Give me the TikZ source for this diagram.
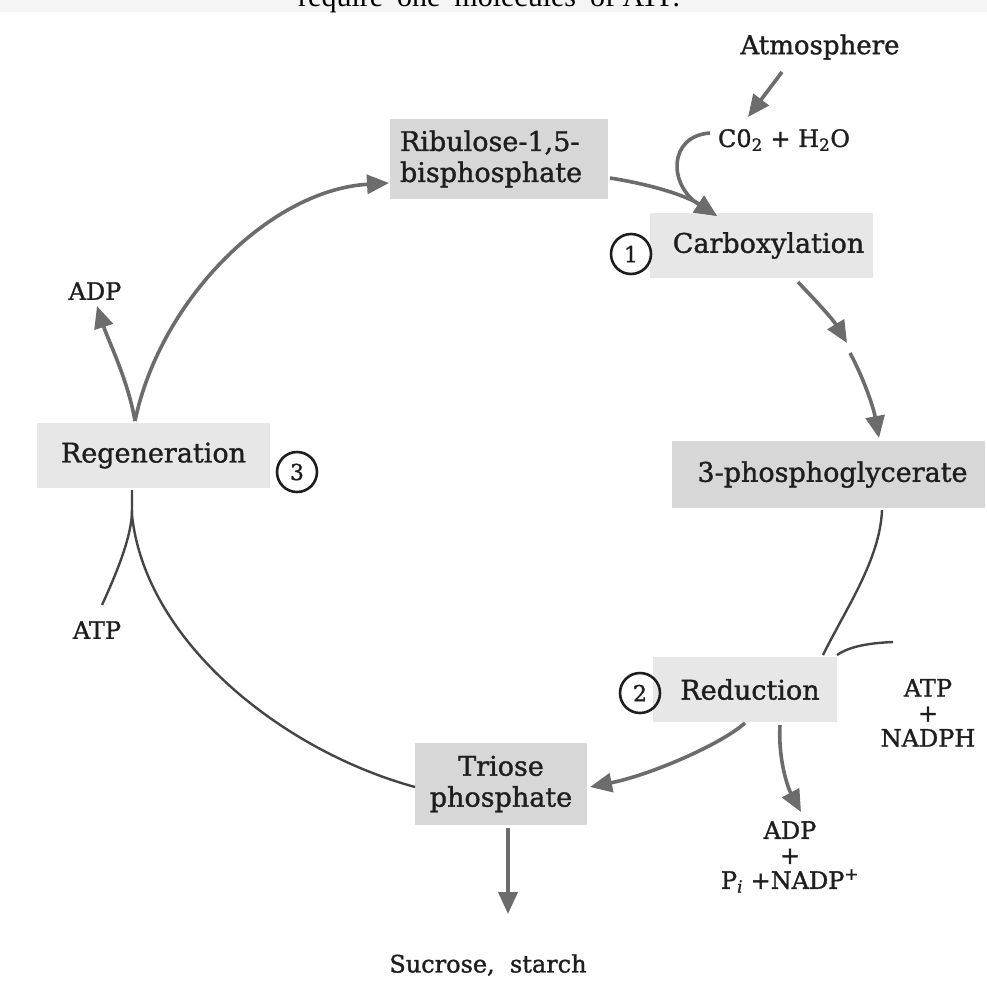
\documentclass[tikz,border=0pt]{standalone}
\usepackage{fontspec}
\setmainfont{DejaVu Serif}[FakeBold=1.3]
\newfontfamily\timesfont{Liberation Serif}
\usetikzlibrary{arrows.meta}

\definecolor{boxdark}{HTML}{D7D7D7}
\definecolor{boxlight}{HTML}{E7E7E7}
\definecolor{flow}{HTML}{6C6C6C}
\definecolor{ink}{HTML}{1E1E1E}
\definecolor{thinline}{HTML}{454545}

\begin{document}
\begin{tikzpicture}[x=1pt,y=-1pt,
  every node/.style={text=ink, inner sep=0pt},
  lbl/.style={font=\fontsize{27}{31}\selectfont},
  small/.style={font=\fontsize{24}{25}\selectfont, align=center},
  stage/.style={fill=#1, lbl, align=center},
  num/.style={circle, draw=ink, line width=2.6pt, minimum size=40pt,
              font=\fontsize{22}{22}\selectfont},
  flowarrow/.style={draw=flow, line width=3.6pt,
              -{Triangle[length=22pt,width=19pt]}},
  thin/.style={draw=thinline, line width=2.4pt}]

\useasboundingbox (0,0) rectangle (987,983);
\fill[white] (0,0) rectangle (987,983);
\fill[black!4] (0,0) rectangle (987,12);

% caption line running off the top edge
\begin{scope}
  \clip (0,0) rectangle (987,983);
  \node[anchor=base west, font=\timesfont\fontsize{30}{30}\selectfont, text=black]
    (caption) at (298,6) {require\hspace{14pt}one\hspace{14pt}molecules\hspace{14pt}of ATP.};
\end{scope}

% stages of the cycle
\node[stage=boxdark, minimum width=218, minimum height=80, text width=198,
      align=left] (ribu) at (499,159) {Ribulose-1,5-\\bisphosphate};
\node[stage=boxlight, minimum width=223, minimum height=65] (carb) at (761.5,245.5) {\hspace{14pt}Carboxylation};
\node[stage=boxdark, minimum width=313, minimum height=67] (pga) at (828.5,474.5) {\hspace{8pt}3-phosphoglycerate};
\node[stage=boxlight, minimum width=184, minimum height=65] (red) at (745,689.5) {\hspace{10pt}Reduction};
\node[stage=boxdark, minimum width=172, minimum height=82] (tri) at (501,784) {Triose\\phosphate};
\node[stage=boxlight, minimum width=233, minimum height=65] (regen) at (153.5,455.5) {Regeneration};

% step numbers
\node[num] (n1) at (631,254) {1};
\node[num] (n2) at (640,693) {2};
\node[num] (n3) at (297,472) {3};

% metabolites
\node[small, font=\fontsize{26}{26}\selectfont] (atm) at (820,47) {Atmosphere};
\node[small] (co2) at (784,140) {C0\textsubscript{2} + H\textsubscript{2}O};
\node[small] (adpL) at (95,291) {ADP};
\node[small] (atpL) at (97,630) {ATP};
\node[small] (atpR) at (928,713) {ATP\\+\\NADPH};
\node[small] (adpR) at (790,857) {ADP\\+\\P\textsubscript{\itshape i} +NADP\textsuperscript{+}};
\node[small] (sug) at (488,965) {Sucrose,\ \ starch};

% anchor points on the connectors
\coordinate (regTop) at (135,421);
\coordinate (regBot) at (132,490);
\coordinate (ribIn) at (389,183);
\coordinate (ribOut) at (610,178);
\coordinate (carbIn) at (717,216);
\coordinate (co2Out) at (710,133);
\coordinate (atmOut) at (782,72);
\coordinate (co2In) at (748,117);
\coordinate (carbOut) at (798,282);
\coordinate (mid) at (847,343);
\coordinate (midB) at (850,353);
\coordinate (pgaIn) at (879,438);
\coordinate (pgaOut) at (882,510);
\coordinate (redIn) at (823,655);
\coordinate (nadphEnd) at (893,642);
\coordinate (nadphIn) at (837,655);
\coordinate (redOutA) at (745,723);
\coordinate (triIn) at (590,787);
\coordinate (redOutB) at (780,725);
\coordinate (adpTip) at (801,812);
\coordinate (triOut) at (508,828);
\coordinate (sugTip) at (508,914);
\coordinate (triLeft) at (415,787);
\coordinate (atpEnd) at (102,605);
\coordinate (adpTipL) at (97,306);

% regeneration of RuBP and ADP release
\draw[flowarrow] (regTop) .. controls (160,300) and (270,190) .. (ribIn);
\draw[flowarrow] (regTop) .. controls (128,380) and (108,340) .. (adpTipL);

% carboxylation
\draw[flowarrow] (ribOut) .. controls (660,186) and (690,198) .. (carbIn);
\draw[flowarrow] (co2Out) .. controls (668,136) and (668,185) .. (carbIn);
\draw[flowarrow] (atmOut) -- (co2In);
\draw[flowarrow] (carbOut) .. controls (815,300) and (832,318) .. (mid);
\draw[flowarrow] (midB) .. controls (862,375) and (873,405) .. (pgaIn);

% reduction
\draw[thin] (pgaOut) .. controls (880,560) and (845,610) .. (redIn);
\draw[thin] (nadphIn) .. controls (850,646) and (870,643) .. (nadphEnd);
\draw[flowarrow] (redOutA) .. controls (720,745) and (650,775) .. (triIn);
\draw[flowarrow] (redOutB) .. controls (778,760) and (788,788) .. (adpTip);
\draw[flowarrow] (triOut) -- (sugTip);

% return to regeneration
\draw[thin] (triLeft) .. controls (280,750) and (145,640) .. (132,515) -- (regBot);
\draw[thin] (atpEnd) .. controls (118,570) and (132,535) .. (132,510);
\end{tikzpicture}
\end{document}
